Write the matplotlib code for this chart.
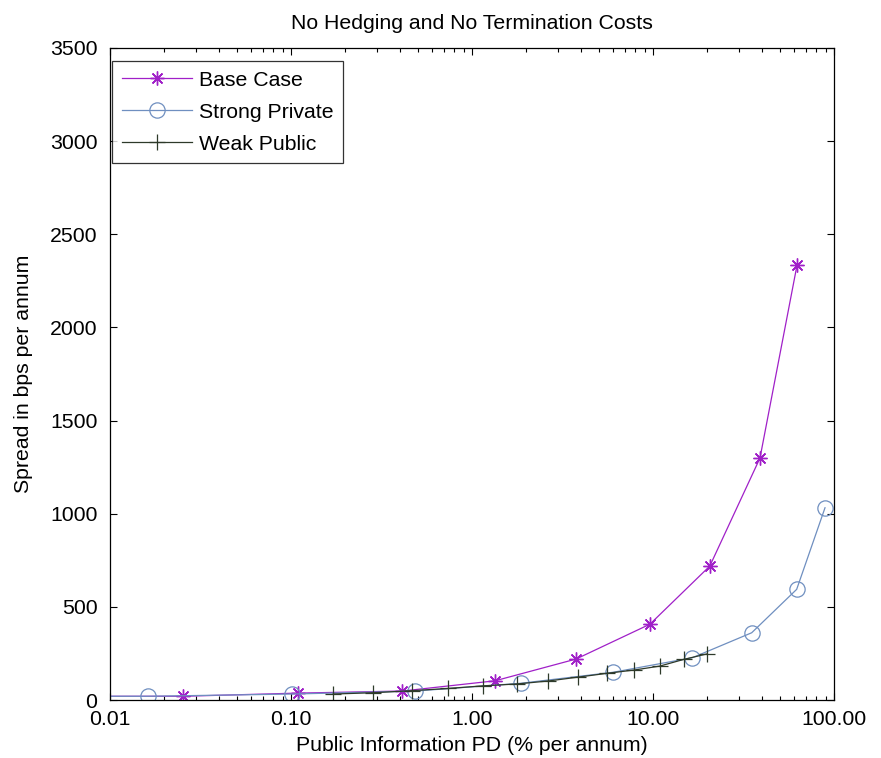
import matplotlib
matplotlib.use("Agg")
import matplotlib.pyplot as plt
from matplotlib.ticker import FixedLocator, FixedFormatter, LogLocator, NullFormatter

plt.rcParams['font.family'] = ['Liberation Sans', 'DejaVu Sans']

# Data
base_x = [0.006, 0.0253, 0.109, 0.41, 1.34, 3.76, 9.62, 20.6, 39.0, 62.5]
base_y = [20, 20, 37, 48, 103, 220, 407, 719, 1299, 2335]

strong_x = [0.006, 0.0162, 0.101, 0.484, 1.87, 6.04, 16.5, 35.1, 62.2, 89.2]
strong_y = [20, 20, 32, 48, 90, 149, 227, 361, 594, 1032]

weak_x = [0.171, 0.285, 0.464, 0.740, 1.154, 1.766, 2.64, 3.87, 5.55, 7.88, 10.9, 14.8, 19.8]
weak_y = [32, 39, 50, 62, 76, 86, 102, 123, 143, 161, 182, 218, 247]

x_ticks = [0.01, 0.1, 1, 10, 100]
x_labels = ["0.01", "0.10", "1.00", "10.00", "100.00"]
y_ticks = [0, 500, 1000, 1500, 2000, 2500, 3000, 3500]

FS = 15.3

fig = plt.figure(figsize=(8.81, 7.58), dpi=100)
ax = fig.add_axes([110/881, 58/758, 724/881, 652/758])

c_base = '#A020C8'
c_strong = '#6F8FC0'
c_weak = '#2E3A2A'

ax.plot(base_x, base_y, color=c_base, lw=0.9, marker=(8, 2, 0), ms=10, mew=1.0,
        label='Base Case')
ax.plot(strong_x, strong_y, color=c_strong, lw=0.9, marker='o', ms=11, mew=0.9,
        mfc='none', label='Strong Private')
ax.plot(weak_x, weak_y, color=c_weak, lw=0.9, marker='+', ms=12, mew=0.9,
        label='Weak Public')

ax.set_xscale('log')
ax.set_xlim(0.01, 100)
ax.set_ylim(0, 3500)
ax.xaxis.set_major_locator(FixedLocator(x_ticks))
ax.xaxis.set_major_formatter(FixedFormatter(x_labels))
ax.xaxis.set_minor_locator(LogLocator(base=10, subs=range(2, 10)))
ax.xaxis.set_minor_formatter(NullFormatter())
ax.set_yticks(y_ticks)

ax.tick_params(which='both', direction='in', top=True, right=True, labelsize=FS)
ax.tick_params(axis='y', pad=9)
ax.tick_params(axis='x', pad=7)
ax.tick_params(which='major', length=5, width=0.8)
ax.tick_params(which='minor', length=3, width=0.8)
for s in ax.spines.values():
    s.set_linewidth(0.9)

ax.set_title('No Hedging and No Termination Costs', fontsize=FS, pad=14)
ax.set_xlabel('Public Information PD (% per annum)', fontsize=FS, labelpad=5)
ax.set_ylabel('Spread in bps per annum', fontsize=FS, labelpad=12)

leg = ax.legend(loc='upper left', bbox_to_anchor=(2/724, 1 - 13/652), fontsize=FS,
                frameon=True, fancybox=False, edgecolor='black', borderaxespad=0,
                handlelength=3.3, handletextpad=0.35, borderpad=0.45, labelspacing=0.62)
leg.get_frame().set_linewidth(0.9)

fig.savefig('out.png', dpi=100)
